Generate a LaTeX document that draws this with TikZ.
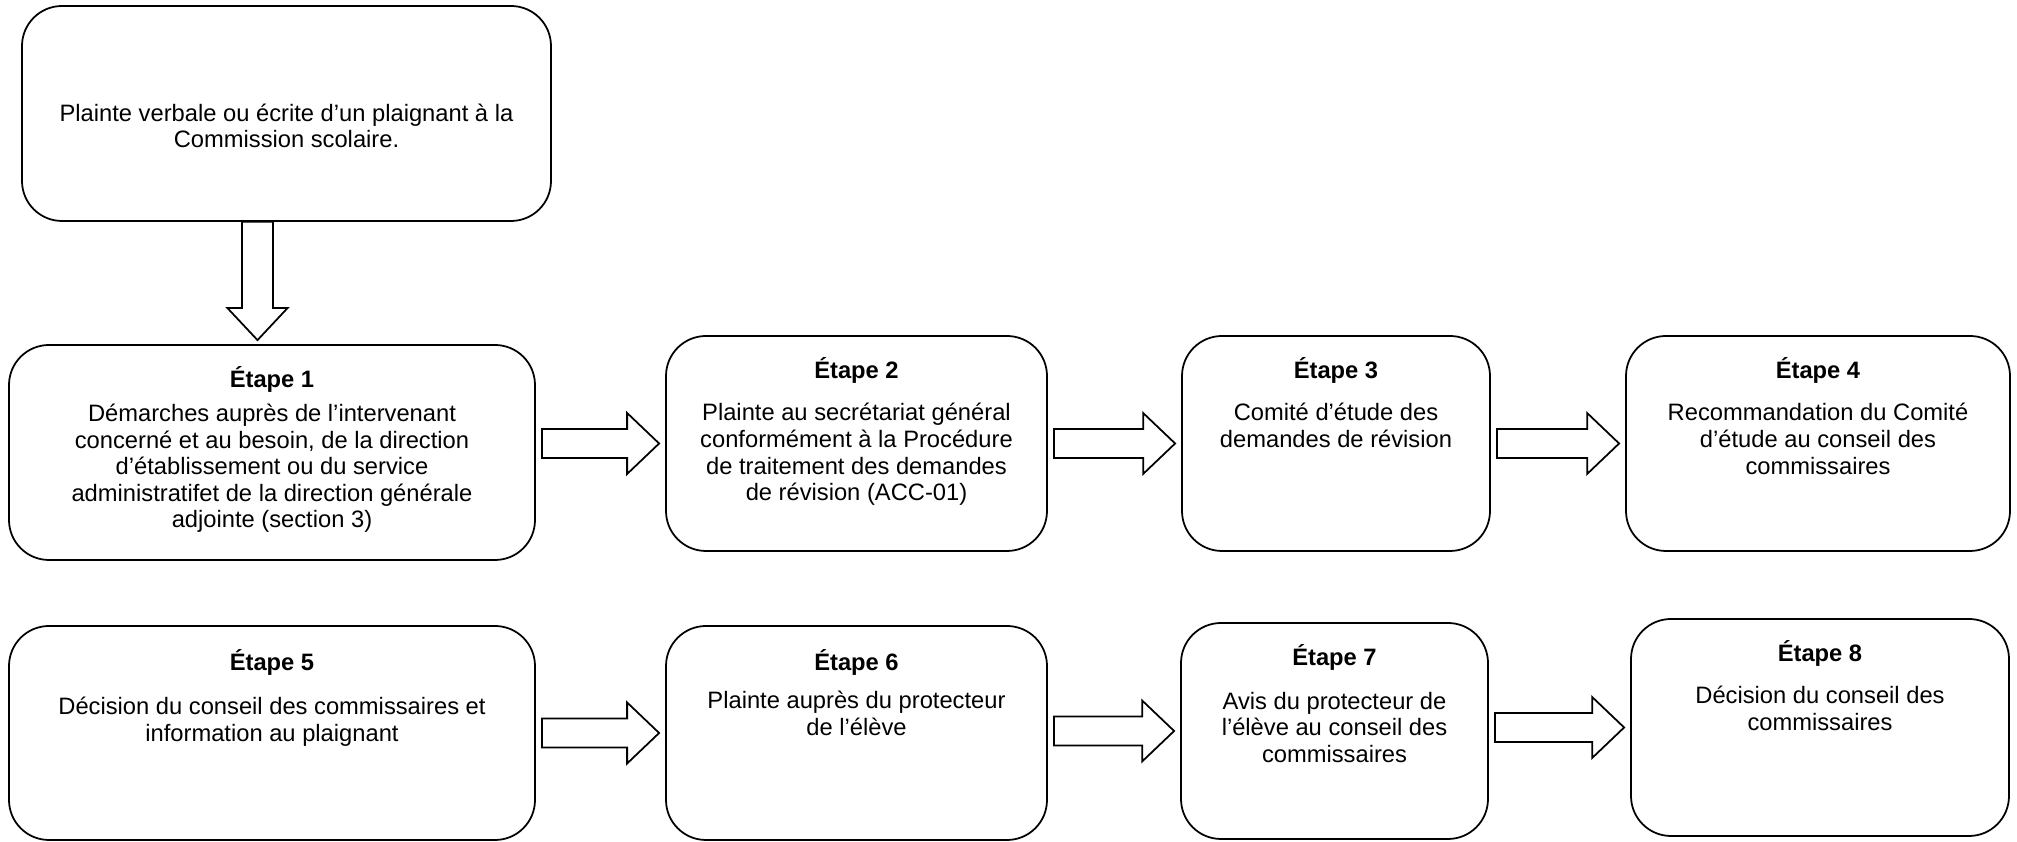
\documentclass[tikz,border=0pt]{standalone}
\usepackage{fontspec}
\setmainfont{Liberation Sans}
\usetikzlibrary{calc}
\newcommand{\etapetext}[4]{\parbox[c][#2][t]{#1}{\centering\vspace*{#3}\rule{0pt}{0.5cm}#4}}

\begin{document}
\begin{tikzpicture}[scale=1,
  harrow/.style={to path={let \p1=(\tikztostart), \p2=(\tikztotarget) in
    (\x1+0.12cm,\y2+0.29cm) -- (\x2-0.76cm,\y2+0.29cm) -- (\x2-0.76cm,\y2+0.61cm) -- (\x2-0.12cm,\y2)
    -- (\x2-0.76cm,\y2-0.61cm) -- (\x2-0.76cm,\y2-0.29cm) -- (\x1+0.12cm,\y2-0.29cm) -- cycle}},
  varrow/.style={to path={let \p1=(\tikztostart), \p2=(\tikztotarget) in
    (\x1-0.31cm,\y1) -- (\x1-0.31cm,\y2+0.72cm) -- (\x1-0.6cm,\y2+0.72cm) -- (\x1,\y2+0.08cm)
    -- (\x1+0.6cm,\y2+0.72cm) -- (\x1+0.31cm,\y2+0.72cm) -- (\x1+0.31cm,\y1) -- cycle}}]

\useasboundingbox (0,0) rectangle (40.34,16.84);

\begin{scope}[every node/.style={draw,line width=1pt,rounded corners=0.8cm,inner sep=0pt,font=\fontsize{13.5}{15.1}\selectfont}]
\node (plainte) at (5.73,14.57) {\etapetext{10.58cm}{4.30cm}{1.82cm}{Plainte verbale ou écrite d’un plaignant à la\\[-0.6pt]Commission scolaire.}};
\node (e1) at (5.44,7.79) {\etapetext{10.52cm}{4.30cm}{0.36cm}{\textbf{Étape 1}\\[4pt]Démarches auprès de l’intervenant\\concerné et au besoin, de la direction\\d’établissement ou du service\\administratifet de la direction générale\\adjointe (section 3)}};
\node (e2) at (17.13,7.97) {\etapetext{7.62cm}{4.30cm}{0.36cm}{\textbf{Étape 2}\\[8.8pt]Plainte au secrétariat général\\conformément à la Procédure\\de traitement des demandes\\de révision (ACC-01)}};
\node (e3) at (26.72,7.97) {\etapetext{6.16cm}{4.30cm}{0.36cm}{\textbf{Étape 3}\\[8.8pt]Comité d’étude des\\demandes de révision}};
\node (e4) at (36.36,7.97) {\etapetext{7.68cm}{4.30cm}{0.36cm}{\textbf{Étape 4}\\[8.8pt]Recommandation du Comité\\d’étude au conseil des\\commissaires}};
\node (e5) at (5.44,2.18) {\etapetext{10.52cm}{4.28cm}{0.40cm}{\textbf{Étape 5}\\[9.7pt]Décision du conseil des commissaires et\\information au plaignant}};
\node (e6) at (17.13,2.18) {\etapetext{7.62cm}{4.28cm}{0.40cm}{\textbf{Étape 6}\\[6.5pt]Plainte auprès du protecteur\\de l’élève}};
\node (e7) at (26.69,2.22) {\etapetext{6.14cm}{4.32cm}{0.35cm}{\textbf{Étape 7}\\[9.7pt]Avis du protecteur de\\l’élève au conseil des\\commissaires}};
\node (e8) at (36.40,2.29) {\etapetext{7.56cm}{4.34cm}{0.36cm}{\textbf{Étape 8}\\[8.8pt]Décision du conseil des\\commissaires}};
\end{scope}

% fleches
\begin{scope}[line width=1pt,color=black]
\draw ([xshift=-0.58cm]plainte.south) to [varrow] (e1.north);
\draw (e1.east) to [harrow] (e2.west);
\draw (e2.east) to [harrow] (e3.west);
\draw (e3.east) to [harrow] (e4.west);
\draw (e5.east) to [harrow] (e6.west);
\draw (e6.east) to [harrow] (e7.west);
\draw (e7.east) to [harrow] (e8.west);
\end{scope}

\end{tikzpicture}
\end{document}
